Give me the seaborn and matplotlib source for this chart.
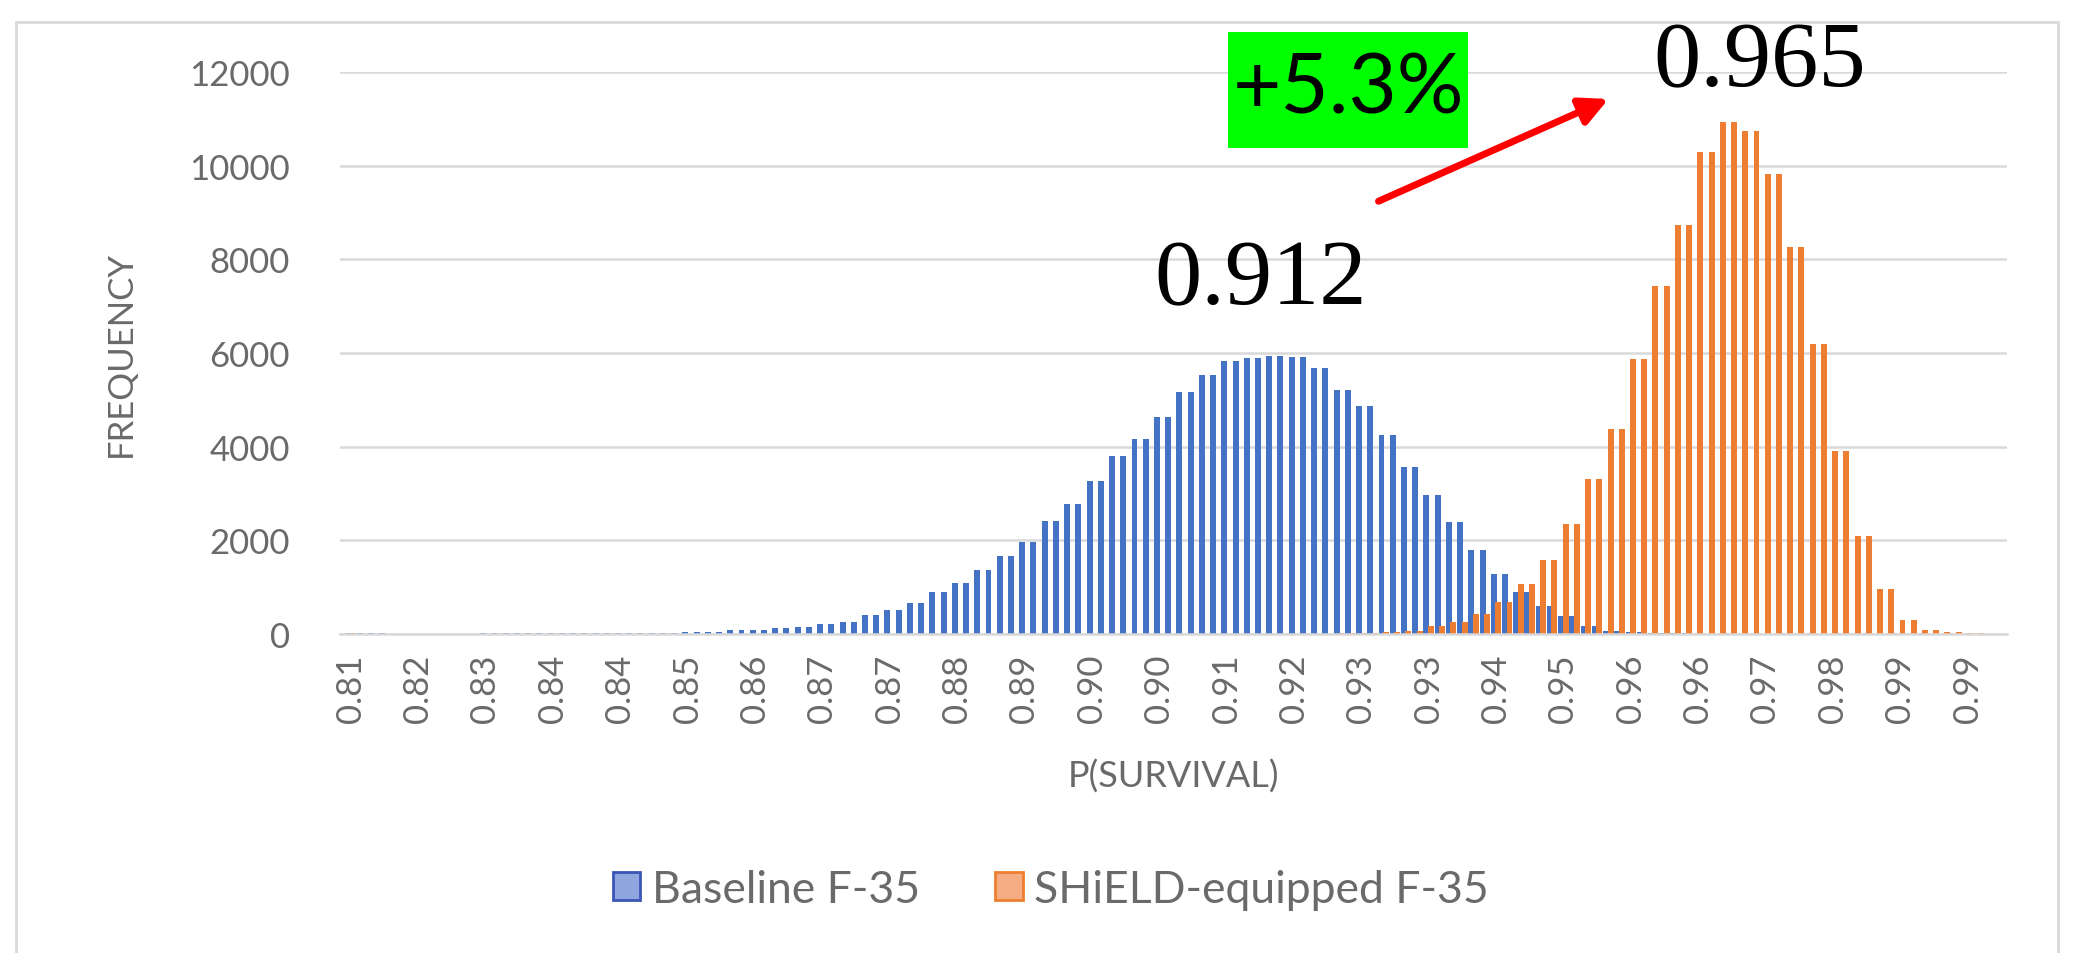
import numpy as np
import pandas as pd
import matplotlib
matplotlib.use("Agg")
import matplotlib.pyplot as plt
import seaborn as sns
from matplotlib.patches import Rectangle

# --------------------------------------------------
# Data (histogram bins, bin width 0.0025)
# --------------------------------------------------

series_names = ["Baseline F-35", "SHiELD-equipped F-35"]

baseline_freq = [
    20, 15, 0, 10, 10, 0, 12, 15, 15, 18, 20, 22, 25, 28, 30, 40, 50,
    75, 90, 120, 145, 210, 265, 405, 510, 660, 890, 1080, 1365,
    1661, 1971, 2419, 2780, 3271, 3805, 4173, 4643, 5162, 5538, 5827,
    5884, 5942, 5906, 5690, 5213, 4859, 4245, 3574, 2960, 2383, 1783,
    1278, 903, 592, 375, 180, 72, 36,
    20, 12, 8, 5, 5, 3, 3, 2, 0, 0, 0, 0, 0, 0, 0, 0,
]

shield_freq = [0] * 40 + [
    3, 5, 8, 10, 15, 20, 35,
    72, 166, 253, 433, 686, 1061, 1588, 2347, 3300, 4368, 5863,
    7428, 8725, 10290, 10942, 10732, 9812, 8254,
    6200, 3900, 2100, 950, 300, 80, 40, 20, 10,
]

tick_labels = [
    "0.81", "0.82", "0.83", "0.84", "0.84", "0.85", "0.86", "0.87", "0.87",
    "0.88", "0.89", "0.90", "0.90", "0.91", "0.92", "0.93", "0.93", "0.94",
    "0.95", "0.96", "0.96", "0.97", "0.98", "0.99", "0.99",
]

y_ticks = [0, 2000, 4000, 6000, 8000, 10000, 12000]

# each bin shows up as two equal columns in the original Excel chart
n_bars = 2 * len(baseline_freq)
bar_idx = np.arange(n_bars)

df = pd.concat([
    pd.DataFrame({"bar": bar_idx, "series": series_names[0],
                  "freq": np.repeat(baseline_freq, 2)}),
    pd.DataFrame({"bar": bar_idx, "series": series_names[1],
                  "freq": np.repeat(shield_freq, 2)}),
])

# --------------------------------------------------
# Style
# --------------------------------------------------

sns.set_style("white")
plt.rcParams["font.family"] = ["Lato", "DejaVu Sans"]

grey_text = "#6a6a6a"
grid_col = "#d9d9d9"
palette = {series_names[0]: "#4472C4", series_names[1]: "#ED7D31"}

fig = plt.figure(figsize=(20.89, 9.54), dpi=100)
fig.patch.set_facecolor("white")
ax = fig.add_axes([0.1628, 0.3344, 0.7979, 0.5891])

sns.barplot(
    data=df, x="bar", y="freq", hue="series",
    hue_order=series_names, palette=palette,
    order=list(bar_idx), dodge=True, width=0.8,
    saturation=1, errorbar=None, ax=ax,
)

# make the thin columns a bit wider so blue/orange overlap like Excel
for p in ax.patches:
    c = p.get_x() + p.get_width() / 2
    p.set_width(0.53)
    p.set_x(c - 0.265)
    p.set_linewidth(0)

ax.set_xlim(-0.95, n_bars - 0.5)
ax.set_ylim(0, 12000)

ax.set_xticks(np.arange(0, n_bars, 6)[:len(tick_labels)])
ax.set_xticklabels(tick_labels, rotation=90)
ax.set_yticks(y_ticks)
ax.set_yticklabels([str(v) for v in y_ticks])

ax.tick_params(axis="both", length=0, labelsize=25, colors=grey_text)
ax.tick_params(axis="y", pad=36)
ax.tick_params(axis="x", pad=14)

ax.yaxis.grid(True, color=grid_col, lw=1.8)
ax.set_axisbelow(True)
for side in ["top", "left", "right"]:
    ax.spines[side].set_visible(False)
ax.spines["bottom"].set_color(grid_col)
ax.spines["bottom"].set_linewidth(1.8)

ax.set_xlabel("P(SURVIVAL)", fontsize=26, color=grey_text)
ax.set_ylabel("FREQUENCY", fontsize=25, color=grey_text)
ax.xaxis.set_label_coords(0.5, -0.222)
ax.yaxis.set_label_coords(-0.122, 0.5)

# --------------------------------------------------
# Legend
# --------------------------------------------------

handles, labels = ax.get_legend_handles_labels()
ax.get_legend().remove()
edge_cols = ["#3b55b8", "#ED7D31"]
face_cols = ["#8fa6df", "#f5ac82"]
for h, ec, fc in zip(handles, edge_cols, face_cols):
    h.set_edgecolor(ec)
    h.set_facecolor(fc)
    h.set_linewidth(2)

fig.legend(
    handles, labels, loc="center", bbox_to_anchor=(0.503, 0.067),
    ncol=2, frameon=False, fontsize=32, labelcolor=grey_text,
    handlelength=0.62, handleheight=0.62, handletextpad=0.25,
    columnspacing=1.7,
)

# --------------------------------------------------
# Annotations
# --------------------------------------------------

ax.text(0.552, 0.628, "0.912", transform=ax.transAxes, ha="center",
        va="center", fontsize=68, family="Liberation Serif", color="black")
ax.text(0.852, 1.017, "0.965", transform=ax.transAxes, ha="center",
        va="center", fontsize=68, family="Liberation Serif", color="black")

# green label box behind the +5.3% text
ax.add_patch(Rectangle(
    (0.5327, 0.8648), 0.144, 0.2064, transform=ax.transAxes,
    facecolor="#00ff00", edgecolor="none", clip_on=False, zorder=3,
))
ax.text(0.6047, 0.968, "+5.3%", transform=ax.transAxes, ha="center",
        va="center", fontsize=60, color="black", zorder=4)

ax.annotate(
    "", xy=(0.761, 0.952), xytext=(0.623, 0.770),
    xycoords="axes fraction", textcoords="axes fraction",
    arrowprops=dict(arrowstyle="-|>", color="#ff0000", lw=5,
                    mutation_scale=42, shrinkA=0, shrinkB=0),
)

# outer chart border (bottom edge falls off the canvas)
fig.patches.append(Rectangle(
    (16 / 2089, -0.02), (2058 - 16) / 2089, (954 - 23) / 954 + 0.02,
    transform=fig.transFigure, fill=False, edgecolor=grid_col, lw=2,
))

fig.savefig("out.png", dpi=100)
print("Saved out.png")
